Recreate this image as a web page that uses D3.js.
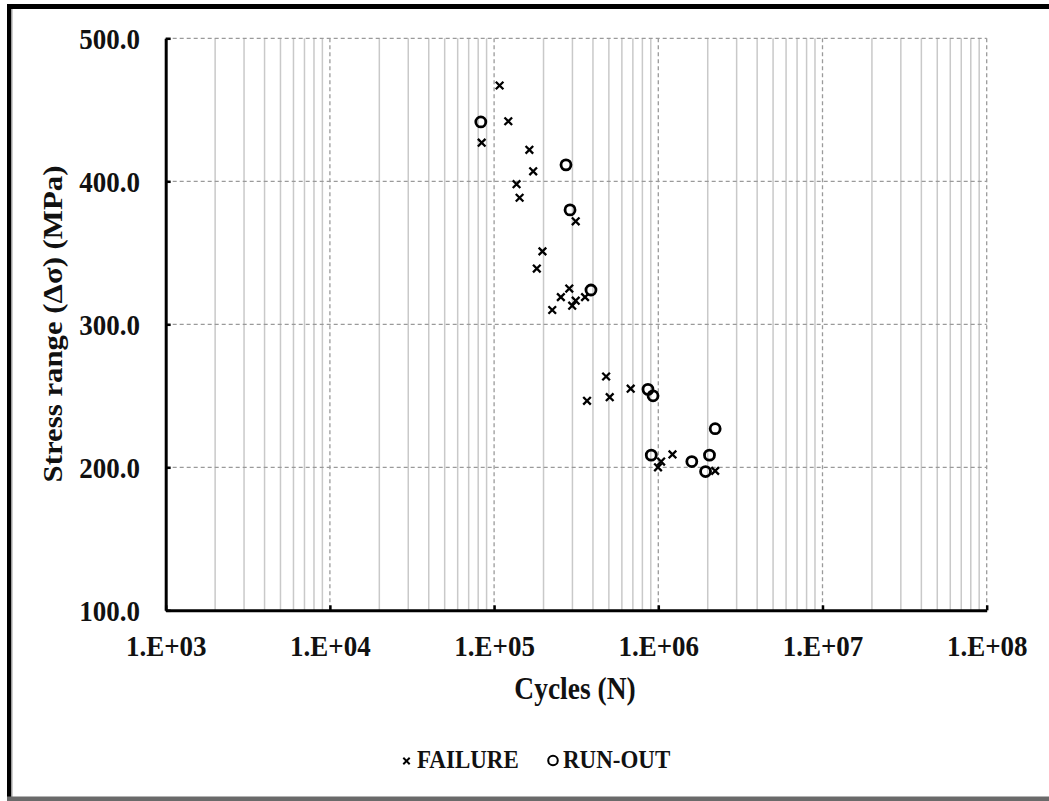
<!DOCTYPE html>
<html>
<head>
<meta charset="utf-8">
<script src="https://cdn.jsdelivr.net/npm/d3@7"></script>
<style>
  html, body { margin: 0; padding: 0; background: #fff; }
  svg { display: block; }
  text { font-family: "Liberation Serif", "Times New Roman", serif; font-weight: bold; fill: #111; }
</style>
</head>
<body>
<svg id="chart" width="1049" height="801"></svg>
<script>
// ---- data ----
const failureN = [1.08e5, 1.22e5, 8.4e4, 1.64e5, 1.73e5, 1.37e5, 1.43e5, 3.14e5, 1.97e5, 1.82e5,
                  2.87e5, 2.55e5, 3.14e5, 2.99e5, 3.58e5, 2.26e5,
                  4.81e5, 6.79e5, 3.68e5, 5.06e5, 1.22e6, 1.04e6, 9.96e5, 2.22e6];
const failureS = [467, 442, 427, 422, 407, 398, 388.5, 372, 351, 339,
                  325, 319, 316.5, 313, 319, 310,
                  263.5, 255, 246.5, 249, 209, 204, 200, 197.5];
const runoutN = [8.3e4, 2.74e5, 2.90e5, 3.89e5, 8.65e5, 9.29e5, 9.06e5, 1.60e6, 2.05e6, 1.94e6, 2.22e6];
const runoutS = [441.5, 411.5, 380, 324, 254.5, 250, 208.5, 204, 208.5, 197, 227];
const xTicks = [1e3, 1e4, 1e5, 1e6, 1e7, 1e8];
const yTicks = [100, 200, 300, 400, 500];
const xTitle = "Cycles (N)";
const yTitle = "Stress range (Δσ) (MPa)";
const legendLabels = ["FAILURE", "RUN-OUT"];

// ---- layout ----
const svg = d3.select("#chart");
const L = 165.7, R = 986.7, T = 38.3, B = 610.3;
const SY = 1.12; // vertical stretch of the reference's lettering
const x = d3.scaleLog().domain([1e3, 1e8]).range([L, R]);
const y = d3.scaleLinear().domain([100, 500]).range([B, T]);

// outer frame
svg.append("rect").attr("x", 7).attr("y", 4).attr("width", 1049).attr("height", 5).attr("fill", "#000");
svg.append("rect").attr("x", 7).attr("y", 4).attr("width", 4.5).attr("height", 797).attr("fill", "#000");
svg.append("rect").attr("x", 11.5).attr("y", 9).attr("width", 1.2).attr("height", 788).attr("fill", "#bbb");
svg.append("rect").attr("x", 7).attr("y", 796.5).attr("width", 1049).attr("height", 4.5).attr("fill", "#6a6a6a");

const grid = svg.append("g");
// minor vertical gridlines
const minor = [];
for (let e = 3; e < 8; e++) for (let k = 2; k <= 9; k++) minor.push(k * Math.pow(10, e));
grid.selectAll("line.minor").data(minor).join("line")
  .attr("x1", d => x(d)).attr("x2", d => x(d)).attr("y1", T).attr("y2", B)
  .attr("stroke", "#c9c9c9").attr("stroke-width", 1.5);
// major vertical gridlines (dashed)
grid.selectAll("line.majx").data(xTicks.slice(1)).join("line")
  .attr("x1", d => x(d)).attr("x2", d => x(d)).attr("y1", T).attr("y2", B)
  .attr("stroke", "#9a9a9a").attr("stroke-width", 1.3).attr("stroke-dasharray", "4,3");
// horizontal gridlines (dashed)
grid.selectAll("line.majy").data(yTicks.slice(1)).join("line")
  .attr("x1", L).attr("x2", R).attr("y1", d => y(d)).attr("y2", d => y(d))
  .attr("stroke", "#9a9a9a").attr("stroke-width", 1.3).attr("stroke-dasharray", "4,3");

// axes
const fmt = d => "1.E+" + String(Math.round(Math.log10(d))).padStart(2, "0");
const xAxis = svg.append("g").attr("transform", `translate(0,${B})`)
  .call(d3.axisBottom(x).tickValues(xTicks).tickFormat(fmt).tickSizeInner(-5).tickSizeOuter(0));
xAxis.select(".domain").attr("stroke", "#000").attr("stroke-width", 3);
xAxis.selectAll(".tick line").attr("stroke", "#000").attr("stroke-width", 2.5);
xAxis.selectAll(".tick text")
  .attr("y", null).attr("dy", null)
  .attr("transform", `translate(0,46) scale(1,${SY})`)
  .style("font-size", "27px").attr("fill", "#111");

const yAxis = svg.append("g").attr("transform", `translate(${L},0)`)
  .call(d3.axisLeft(y).tickValues(yTicks).tickFormat(d3.format(".1f")).tickSizeInner(-5).tickSizeOuter(0));
yAxis.select(".domain").attr("stroke", "#000").attr("stroke-width", 3);
yAxis.selectAll(".tick line").attr("stroke", "#000").attr("stroke-width", 2.5);
yAxis.selectAll(".tick text")
  .attr("x", null).attr("dy", null)
  .attr("transform", `translate(-25.7,10) scale(1,${SY})`)
  .style("font-size", "27px").attr("fill", "#111");
svg.selectAll(".tick text").attr("font-family", null);

// axis titles
svg.append("text").attr("transform", `translate(575,699) scale(1,${SY})`).attr("text-anchor", "middle")
  .style("font-size", "27.5px").text(xTitle);
svg.append("text").attr("transform", `translate(62,324) rotate(-90) scale(${SY},1)`).attr("text-anchor", "middle")
  .style("font-size", "27.5px").text(yTitle);

// markers
const cross = (g, cx, cy, s, w) => {
  g.append("path")
    .attr("d", `M${cx - s},${cy - s}L${cx + s},${cy + s}M${cx - s},${cy + s}L${cx + s},${cy - s}`)
    .attr("stroke", "#000").attr("stroke-width", w).attr("fill", "none");
};
const fail = svg.append("g");
failureN.forEach((n, i) => cross(fail, x(n), y(failureS[i]), 3.8, 2.3));
svg.append("g").selectAll("circle").data(runoutN).join("circle")
  .attr("cx", d => x(d)).attr("cy", (d, i) => y(runoutS[i])).attr("r", 5)
  .attr("fill", "none").attr("stroke", "#000").attr("stroke-width", 2.8);

// legend
const lg = svg.append("g");
cross(lg, 406.5, 761, 3.2, 2);
lg.append("text").attr("transform", `translate(417,768) scale(1,${SY})`).style("font-size", "23px").text(legendLabels[0]);
lg.append("circle").attr("cx", 553).attr("cy", 760.5).attr("r", 4.8)
  .attr("fill", "none").attr("stroke", "#000").attr("stroke-width", 2);
lg.append("text").attr("transform", `translate(563,768) scale(1,${SY})`).style("font-size", "23px").text(legendLabels[1]);
</script>
</body>
</html>
